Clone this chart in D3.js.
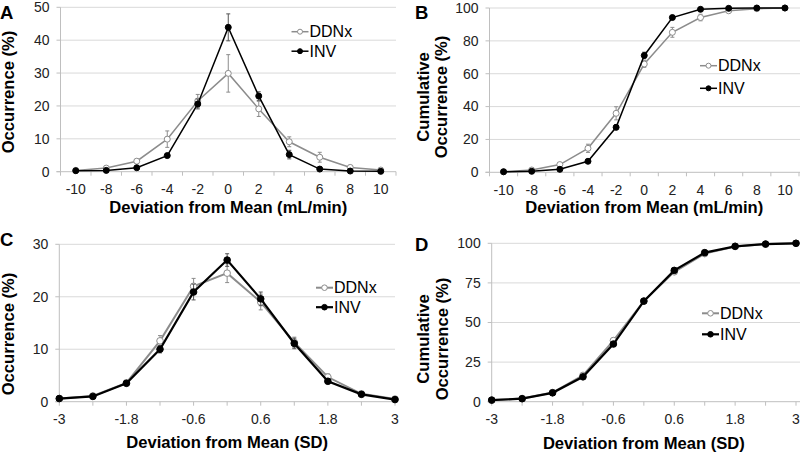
<!DOCTYPE html>
<html><head><meta charset="utf-8">
<script src="https://cdn.jsdelivr.net/npm/d3@7"></script>
<style>
body{margin:0;background:#fff;}
svg{display:block;font-family:"Liberation Sans",Arial,sans-serif;}
</style></head>
<body><svg id="chart" width="800" height="453"></svg>
<script>
// ---- data ----
const seriesNames = ["DDNx", "INV"];
const mlCategories = [-10, -8, -6, -4, -2, 0, 2, 4, 6, 8, 10];
const sdPoints = [-3, -2.4, -1.8, -1.2, -0.6, 0, 0.6, 1.2, 1.8, 2.4, 3];
const sdTickLabels = [-3, -1.8, -0.6, 0.6, 1.8, 3];

// Panel A: occurrence (%) vs deviation (mL/min)
const aDDNx    = [0.4, 1.1, 3.2, 9.9, 21.5, 29.9, 19.1, 9.1, 4.4, 1.3, 0.5];
const aDDNxErr = [0.2, 0.4, 0.6, 2.5, 2.0, 5.7, 2.3, 1.5, 1.5, 0.5, 0.3];
const aINV     = [0.3, 0.4, 1.2, 4.9, 20.6, 43.9, 23.0, 5.2, 0.8, 0.2, 0.1];
const aINVErr  = [0.1, 0.2, 0.4, 0.6, 1.5, 4.1, 1.3, 1.3, 0.4, 0.1, 0.1];

// Panel B: cumulative occurrence (%) vs deviation (mL/min)
const bDDNx    = [0.4, 1.4, 4.7, 14.6, 35.9, 65.9, 85.2, 94.2, 98.3, 99.6, 100];
const bDDNxErr = [0.2, 0.5, 1.0, 2.5, 4.0, 2.0, 3.0, 2.0, 1.0, 0.4, 0];
const bINV     = [0.3, 0.6, 1.8, 6.7, 27.4, 71.1, 94.2, 99.2, 99.8, 100, 100];
const bINVErr  = [0.1, 0.2, 0.5, 1.0, 1.5, 2.0, 1.0, 0.5, 0.2, 0, 0];

// Panel C: occurrence (%) vs deviation (SD)
const cDDNx    = [0.6, 1.1, 3.6, 11.6, 22.0, 24.5, 19.0, 11.3, 4.7, 1.5, 0.5];
const cDDNxErr = [0.2, 0.2, 0.4, 1.0, 1.5, 1.8, 1.5, 1.0, 0.6, 0.3, 0.1];
const cINV     = [0.6, 1.0, 3.5, 10.0, 20.9, 27.0, 19.6, 11.1, 3.9, 1.4, 0.4];
const cINVErr  = [0.1, 0.2, 0.3, 0.7, 1.5, 1.2, 1.3, 1.0, 0.5, 0.2, 0.1];

// Panel D: cumulative occurrence (%) vs deviation (SD)
const dDDNx    = [1.0, 2.0, 5.8, 16.6, 38.6, 63.5, 82.0, 93.5, 98.0, 99.5, 100];
const dDDNxErr = [0.2, 0.3, 0.6, 1.0, 1.5, 1.0, 1.0, 0.5, 0.3, 0.1, 0];
const dINV     = [1.0, 1.9, 5.6, 15.7, 36.4, 63.5, 82.9, 94.1, 98.1, 99.5, 100];
const dINVErr  = [0.1, 0.2, 0.4, 0.8, 1.2, 1.0, 0.8, 0.4, 0.2, 0.1, 0];

// ---- drawing ----
const svg = d3.select("#chart");
const GRID = "#d9d9d9", AXIS = "#bfbfbf", LABEL = "#222";
const DDNX_COL = "#8c8c8c", INV_COL = "#000";

function drawPanel(p) {
  const g = svg.append("g");
  const y = d3.scaleLinear().domain([0, p.yMax]).range([p.y0, p.y1]);
  let xPos, tickPositions, labelItems;
  if (p.band) {
    const x = d3.scaleBand().domain(p.cats).range([p.x0, p.x1]).paddingInner(0).paddingOuter(0);
    xPos = v => x(v) + x.bandwidth() / 2;
    tickPositions = p.cats.map(c => x(c)).concat([p.x1]);
    labelItems = p.cats.map(c => ({pos: xPos(c), text: String(c)}));
  } else {
    const x = d3.scaleLinear().domain([p.cats[0], p.cats[p.cats.length - 1]]).range([p.x0, p.x1]);
    xPos = v => x(v);
    tickPositions = p.cats.map(c => x(c));
    labelItems = p.tickLabels.map(t => ({pos: x(t), text: String(t)}));
  }
  // gridlines
  const yt = d3.range(p.yStep, p.yMax + 0.001, p.yStep);
  g.selectAll(".grid").data(yt).join("line")
    .attr("x1", p.x0).attr("x2", p.gridRight).attr("y1", d => y(d)).attr("y2", d => y(d))
    .attr("stroke", GRID).attr("stroke-width", 1);
  // axes
  g.append("line").attr("x1", p.x0).attr("x2", p.x0).attr("y1", p.y0).attr("y2", p.y1)
    .attr("stroke", AXIS).attr("stroke-width", 1);
  g.append("line").attr("x1", p.x0 - 4).attr("x2", p.gridRight).attr("y1", p.y0).attr("y2", p.y0)
    .attr("stroke", AXIS).attr("stroke-width", 1);
  g.selectAll(".ytick").data(d3.range(0, p.yMax + 0.001, p.yStep)).join("line")
    .attr("x1", p.x0 - 4).attr("x2", p.x0).attr("y1", d => y(d)).attr("y2", d => y(d))
    .attr("stroke", AXIS);
  g.selectAll(".xtick").data(tickPositions).join("line")
    .attr("x1", d => d).attr("x2", d => d).attr("y1", p.y0).attr("y2", p.y0 + 4)
    .attr("stroke", AXIS);
  // y tick labels
  g.selectAll(".ylab").data(d3.range(0, p.yMax + 0.001, p.yStep)).join("text")
    .attr("x", p.x0 - 11).attr("y", d => y(d)).attr("dy", "0.35em")
    .attr("text-anchor", "end").attr("font-size", 14).attr("fill", LABEL).text(d => d);
  // x tick labels
  g.selectAll(".xlab").data(labelItems).join("text")
    .attr("x", d => d.pos).attr("y", p.y0 + p.xLabDy).attr("dy", "0.35em")
    .attr("text-anchor", "middle").attr("font-size", 14).attr("fill", LABEL).text(d => d.text);
  // axis titles
  g.append("text").attr("x", (p.x0 + p.x1) / 2).attr("y", p.xTitleY).attr("dy", "0.35em")
    .attr("text-anchor", "middle").attr("font-size", 16.6).attr("font-weight", "bold").text(p.xTitle);
  p.yTitle.forEach((t, i) => {
    g.append("text").attr("transform", `translate(${p.yTitleX[i]},${p.yTitleY}) rotate(-90)`)
      .attr("dy", "0.35em").attr("text-anchor", "middle").attr("font-size", 16.6)
      .attr("font-weight", "bold").text(t);
  });
  // panel letter
  g.append("text").attr("x", p.letterX).attr("y", p.letterY).attr("font-size", 18.5)
    .attr("font-weight", "bold").text(p.letter);

  // series
  const series = [
    {name: seriesNames[0], vals: p.ddnx, err: p.ddnxErr, col: DDNX_COL, fill: "#fff", lw: p.lwD, ecol: "#8c8c8c"},
    {name: seriesNames[1], vals: p.inv, err: p.invErr, col: INV_COL, fill: "#000", lw: p.lwI, ecol: "#555"}
  ];
  const line = d3.line().x(d => xPos(d.x)).y(d => y(d.v));
  series.forEach(s => {
    const pts = p.cats.map((c, i) => ({x: c, v: s.vals[i], e: s.err[i]}));
    const eg = g.append("g");
    pts.filter(d => d.e > 0).forEach(d => {
      const cx = xPos(d.x);
      eg.append("line").attr("x1", cx).attr("x2", cx).attr("y1", y(d.v - d.e)).attr("y2", y(d.v + d.e))
        .attr("stroke", s.ecol).attr("stroke-width", 1);
      [d.v - d.e, d.v + d.e].forEach(v => eg.append("line").attr("x1", cx - 2).attr("x2", cx + 2)
        .attr("y1", y(v)).attr("y2", y(v)).attr("stroke", s.ecol).attr("stroke-width", 1));
    });
    g.append("path").datum(pts).attr("d", line).attr("fill", "none")
      .attr("stroke", s.col).attr("stroke-width", s.lw);
    g.selectAll(null).data(pts).join("circle")
      .attr("cx", d => xPos(d.x)).attr("cy", d => y(d.v)).attr("r", p.r)
      .attr("fill", s.fill).attr("stroke", s.col).attr("stroke-width", 1);
  });
  // legend
  series.forEach((s, i) => {
    const ly = p.legY + i * p.legGap;
    g.append("line").attr("x1", p.legX).attr("x2", p.legX + 17).attr("y1", ly).attr("y2", ly)
      .attr("stroke", s.col).attr("stroke-width", s.lw);
    g.append("circle").attr("cx", p.legX + 8.5).attr("cy", ly).attr("r", p.r - 0.5)
      .attr("fill", s.fill).attr("stroke", s.col).attr("stroke-width", 1);
    g.append("text").attr("x", p.legX + 18).attr("y", ly).attr("dy", "0.35em")
      .attr("font-size", 16).attr("fill", "#000").text(s.name);
  });
}

drawPanel({letter: "A", letterX: 0, letterY: 19, band: true, cats: mlCategories,
  x0: 60.5, x1: 396, gridRight: 396, y0: 171.7, y1: 7.3, yMax: 50, yStep: 10,
  ddnx: aDDNx, ddnxErr: aDDNxErr, inv: aINV, invErr: aINVErr, lwD: 1.5, lwI: 1.5, r: 3,
  xLabDy: 17, xTitle: "Deviation from Mean (mL/min)", xTitleY: 207,
  yTitle: ["Occurrence (%)"], yTitleX: [8], yTitleY: 92,
  legX: 291.5, legY: 31.7, legGap: 19.5});

drawPanel({letter: "B", letterX: 415, letterY: 19, band: true, cats: mlCategories,
  x0: 489.5, x1: 799, gridRight: 800, y0: 172.3, y1: 8, yMax: 100, yStep: 20,
  ddnx: bDDNx, ddnxErr: bDDNxErr, inv: bINV, invErr: bINVErr, lwD: 1.5, lwI: 1.5, r: 3,
  xLabDy: 17.5, xTitle: "Deviation from Mean (mL/min)", xTitleY: 206.7,
  yTitle: ["Cumulative", "Occurrence (%)"], yTitleX: [423, 441], yTitleY: 97,
  legX: 700, legY: 65.7, legGap: 22.6});

drawPanel({letter: "C", letterX: 0, letterY: 246, band: false, cats: sdPoints, tickLabels: sdTickLabels,
  x0: 59.3, x1: 395, gridRight: 395, y0: 401.7, y1: 244.3, yMax: 30, yStep: 10,
  ddnx: cDDNx, ddnxErr: cDDNxErr, inv: cINV, invErr: cINVErr, lwD: 2, lwI: 2.2, r: 3.3,
  xLabDy: 17.5, xTitle: "Deviation from Mean (SD)", xTitleY: 442.5,
  yTitle: ["Occurrence (%)"], yTitleX: [8], yTitleY: 334,
  legX: 316, legY: 287.7, legGap: 19.5});

drawPanel({letter: "D", letterX: 415, letterY: 251, band: false, cats: sdPoints, tickLabels: sdTickLabels,
  x0: 491.7, x1: 796, gridRight: 800, y0: 401.7, y1: 243.3, yMax: 100, yStep: 25,
  ddnx: dDDNx, ddnxErr: dDDNxErr, inv: dINV, invErr: dINVErr, lwD: 2, lwI: 2.2, r: 3.3,
  xLabDy: 17.5, xTitle: "Deviation from Mean (SD)", xTitleY: 443,
  yTitle: ["Cumulative", "Occurrence (%)"], yTitleX: [423, 442], yTitleY: 339,
  legX: 702, legY: 313.3, legGap: 21});
</script></body></html>
